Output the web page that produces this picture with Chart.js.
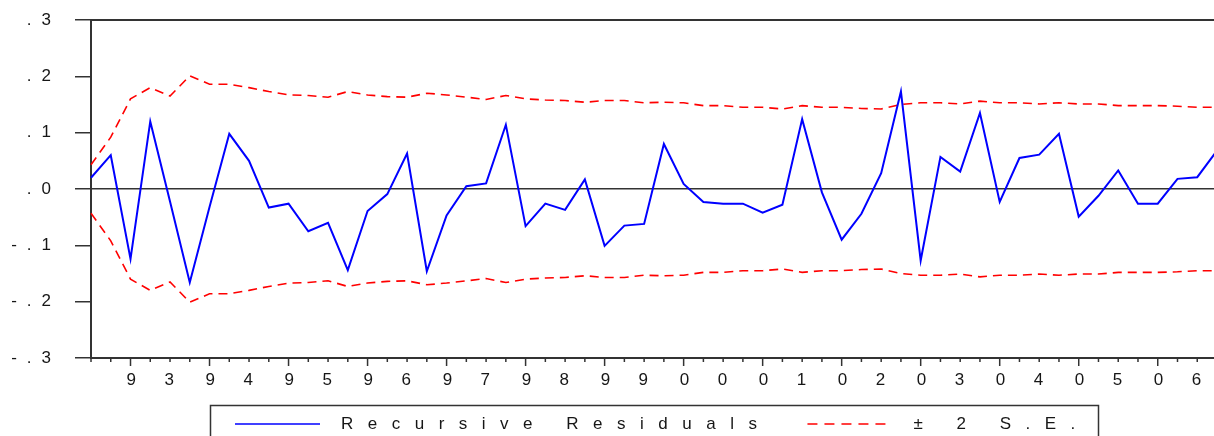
<!DOCTYPE html>
<html>
<head>
<meta charset="utf-8">
<script src="https://cdn.jsdelivr.net/npm/chart.js@4.4.1/dist/chart.umd.min.js"></script>
<style>
  html, body { margin: 0; padding: 0; background: #fff; overflow: hidden; }
</style>
</head>
<body>
<canvas id="residChart" width="1230" height="436"></canvas>
<script>
// quarterly sample 1992Q3 - 2006Q4
const quarters = [
  '1992Q3', '1992Q4',
  '1993Q1', '1993Q2', '1993Q3', '1993Q4',
  '1994Q1', '1994Q2', '1994Q3', '1994Q4',
  '1995Q1', '1995Q2', '1995Q3', '1995Q4',
  '1996Q1', '1996Q2', '1996Q3', '1996Q4',
  '1997Q1', '1997Q2', '1997Q3', '1997Q4',
  '1998Q1', '1998Q2', '1998Q3', '1998Q4',
  '1999Q1', '1999Q2', '1999Q3', '1999Q4',
  '2000Q1', '2000Q2', '2000Q3', '2000Q4',
  '2001Q1', '2001Q2', '2001Q3', '2001Q4',
  '2002Q1', '2002Q2', '2002Q3', '2002Q4',
  '2003Q1', '2003Q2', '2003Q3', '2003Q4',
  '2004Q1', '2004Q2', '2004Q3', '2004Q4',
  '2005Q1', '2005Q2', '2005Q3', '2005Q4',
  '2006Q1', '2006Q2', '2006Q3', '2006Q4'
];

const recursiveResiduals = [
  0.020, 0.060,
  -0.124, 0.120, -0.022, -0.166,
  -0.032, 0.098, 0.050, -0.033,
  -0.026, -0.075, -0.060, -0.144,
  -0.039, -0.009, 0.063, -0.146,
  -0.047, 0.005, 0.010, 0.114,
  -0.066, -0.026, -0.037, 0.017,
  -0.101, -0.065, -0.062, 0.080,
  0.009, -0.023, -0.026, -0.026,
  -0.042, -0.028, 0.124, -0.006,
  -0.090, -0.044, 0.028, 0.173,
  -0.127, 0.057, 0.031, 0.135,
  -0.023, 0.055, 0.061, 0.098,
  -0.049, -0.012, 0.033, -0.026,
  -0.026, 0.018, 0.021, 0.068
];

const upperBand = [
  0.043, 0.092,
  0.160, 0.180, 0.165, 0.201,
  0.186, 0.186, 0.180, 0.173,
  0.167, 0.166, 0.163, 0.173,
  0.167, 0.164, 0.163, 0.170,
  0.167, 0.163, 0.159, 0.166,
  0.160, 0.158, 0.157, 0.154,
  0.157, 0.157, 0.153, 0.154,
  0.153, 0.148, 0.148, 0.145,
  0.145, 0.142, 0.148, 0.145,
  0.145, 0.143, 0.142, 0.150,
  0.153, 0.153, 0.151, 0.156,
  0.153, 0.153, 0.151, 0.153,
  0.151, 0.151, 0.148, 0.148,
  0.148, 0.147, 0.145, 0.145
];

const lowerBand = [
  -0.043, -0.092,
  -0.160, -0.180, -0.165, -0.201,
  -0.186, -0.186, -0.180, -0.173,
  -0.167, -0.166, -0.163, -0.173,
  -0.167, -0.164, -0.163, -0.170,
  -0.167, -0.163, -0.159, -0.166,
  -0.160, -0.158, -0.157, -0.154,
  -0.157, -0.157, -0.153, -0.154,
  -0.153, -0.148, -0.148, -0.145,
  -0.145, -0.142, -0.148, -0.145,
  -0.145, -0.143, -0.142, -0.150,
  -0.153, -0.153, -0.151, -0.156,
  -0.153, -0.153, -0.151, -0.153,
  -0.151, -0.151, -0.148, -0.148,
  -0.148, -0.147, -0.145, -0.145
];

const FONT = 'Liberation Sans, Arial, sans-serif';
const INK = '#161616';
const FRAME = '#333333';

// wide letter spacing for the axis text (EViews look)
const spacingPlugin = {
  id: 'spacing',
  beforeDraw(chart) {
    chart.ctx.letterSpacing = '10px';
  }
};

// box around the plot and the quarter tick marks below it
const framePlugin = {
  id: 'frame',
  beforeDatasetsDraw(chart) {
    const ctx = chart.ctx;
    const a = chart.chartArea;
    const xs = chart.scales.x;
    ctx.save();
    ctx.strokeStyle = FRAME;
    ctx.lineWidth = 2;
    ctx.strokeRect(a.left, a.top, a.right - a.left, a.bottom - a.top);
    ctx.lineWidth = 1.5;
    quarters.forEach((q, i) => {
      const x = xs.getPixelForValue(i);
      const len = q.endsWith('Q1') ? 8 : 4;
      ctx.beginPath();
      ctx.moveTo(x, a.bottom);
      ctx.lineTo(x, a.bottom + len);
      ctx.stroke();
    });
    ctx.restore();
  }
};

// boxed legend under the axis
const legendPlugin = {
  id: 'boxLegend',
  afterDraw(chart) {
    const ctx = chart.ctx;
    const sets = chart.data.datasets.filter(d => !d.hideInLegend);
    ctx.save();
    ctx.strokeStyle = FRAME;
    ctx.lineWidth = 1.5;
    ctx.strokeRect(210.5, 405.5, 888, 40);
    ctx.font = '17px ' + FONT;
    ctx.letterSpacing = '14.5px';
    ctx.fillStyle = INK;
    ctx.textBaseline = 'middle';
    let x = 235;
    const y = 424;
    sets.forEach(d => {
      ctx.strokeStyle = d.borderColor;
      ctx.lineWidth = 1.6;
      ctx.setLineDash(d.borderDash ? [10, 7] : []);
      ctx.beginPath();
      ctx.moveTo(x, y);
      ctx.lineTo(x + 85, y);
      ctx.stroke();
      ctx.setLineDash([]);
      ctx.fillText(d.label, x + 106, y);
      x += 106 + ctx.measureText(d.label).width + 36;
    });
    ctx.restore();
  }
};

new Chart(document.getElementById('residChart'), {
  type: 'line',
  data: {
    labels: quarters,
    datasets: [
      {
        label: 'Recursive Residuals',
        data: recursiveResiduals,
        borderColor: '#0000ff',
        borderWidth: 2,
        pointRadius: 0,
        tension: 0
      },
      {
        label: '± 2 S.E.',
        data: upperBand,
        borderColor: '#ff0000',
        borderWidth: 1.6,
        borderDash: [9, 6],
        pointRadius: 0,
        tension: 0
      },
      {
        label: '± 2 S.E.',
        data: lowerBand,
        borderColor: '#ff0000',
        borderWidth: 1.6,
        borderDash: [9, 6],
        pointRadius: 0,
        tension: 0,
        hideInLegend: true
      }
    ]
  },
  options: {
    responsive: false,
    animation: false,
    layout: { padding: { top: 20, right: 13, left: 0, bottom: 0 } },
    plugins: {
      legend: { display: false },
      tooltip: { enabled: false }
    },
    scales: {
      x: {
        type: 'category',
        offset: false,
        grid: { display: false },
        border: { display: false },
        ticks: {
          autoSkip: false,
          maxRotation: 0,
          minRotation: 0,
          padding: 4,
          labelOffset: 5,
          color: INK,
          font: { family: FONT, size: 17 },
          callback: function (value, index) {
            const q = quarters[index];
            return q.endsWith('Q2') ? q.charAt(2) + '\u2002' + q.charAt(3) : '';
          }
        },
        afterFit: s => {
          s.height = 78;
          s.paddingLeft = 0;
          s.paddingRight = 0;
        }
      },
      y: {
        min: -0.3,
        max: 0.3,
        border: { display: false },
        grid: {
          color: c => Math.abs(c.tick.value) < 1e-9 ? FRAME : 'rgba(0,0,0,0)',
          lineWidth: 1.5,
          tickLength: 16,
          tickColor: FRAME,
          tickWidth: 1.5
        },
        ticks: {
          stepSize: 0.1,
          padding: 14,
          color: INK,
          font: { family: FONT, size: 17 },
          callback: v => (v < -1e-9 ? '-' : '') + Math.abs(v).toFixed(1).replace(/^0/, '')
        },
        afterFit: s => {
          s.width = 91;
          s.paddingTop = 0;
          s.paddingBottom = 0;
        }
      }
    }
  },
  plugins: [spacingPlugin, framePlugin, legendPlugin]
});
</script>
</body>
</html>
